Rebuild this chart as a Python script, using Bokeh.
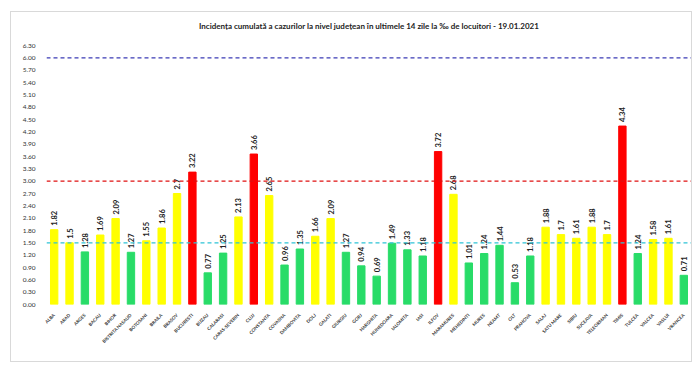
from bokeh.plotting import figure
from bokeh.models import ColumnDataSource, Span, FixedTicker, NumeralTickFormatter, Range1d, FactorRange
from bokeh.embed import file_html
from bokeh.resources import INLINE
from bokeh.core.properties import value
import math

counties = ["ALBA", "ARAD", "ARGES", "BACAU", "BIHOR", "BISTRITA NASAUD", "BOTOSANI", "BRAILA",
            "BRASOV", "BUCURESTI", "BUZAU", "CALARASI", "CARAS-SEVERIN", "CLUJ", "CONSTANTA",
            "COVASNA", "DAMBOVITA", "DOLJ", "GALATI", "GIURGIU", "GORJ", "HARGHITA", "HUNEDOARA",
            "IALOMITA", "IASI", "ILFOV", "MARAMURES", "MEHEDINTI", "MURES", "NEAMT", "OLT",
            "PRAHOVA", "SALAJ", "SATU MARE", "SIBIU", "SUCEAVA", "TELEORMAN", "TIMIS", "TULCEA",
            "VALCEA", "VASLUI", "VRANCEA"]
values = [1.82, 1.5, 1.28, 1.69, 2.09, 1.27, 1.55, 1.86, 2.7, 3.22, 0.77, 1.25, 2.13, 3.66,
          2.65, 0.96, 1.35, 1.66, 2.09, 1.27, 0.94, 0.69, 1.49, 1.33, 1.18, 3.72, 2.68, 1.01,
          1.24, 1.44, 0.53, 1.18, 1.88, 1.7, 1.61, 1.88, 1.7, 4.34, 1.24, 1.58, 1.61, 0.71]
y_ticks = [0.0, 0.3, 0.6, 0.9, 1.2, 1.5, 1.8, 2.1, 2.4, 2.7, 3.0, 3.3, 3.6, 3.9, 4.2, 4.5,
           4.8, 5.1, 5.4, 5.7, 6.0, 6.3]
threshold_values = [1.5, 3.0, 6.0]
threshold_colors = ["#2EC4D6", "#E01010", "#3B3BB5"]
title_text = "Incidența cumulată a cazurilor la nivel județean în ultimele 14 zile la ‰ de locuitori - 19.01.2021"

GREEN, YELLOW, RED = "#28DC68", "#FFFF00", "#FF0000"
colors = [GREEN if v < 1.5 else (YELLOW if v <= 3.0 else RED) for v in values]
labels = [str(v) for v in values]

src = ColumnDataSource(dict(x=counties, top=values, color=colors, label=labels))

p = figure(x_range=FactorRange(*counties, range_padding=0), y_range=Range1d(0, 6.3),
           width=680, height=349, output_backend="svg", toolbar_location=None,
           min_border_left=35, min_border_right=0, min_border_top=33, min_border_bottom=57,
           margin=(12, 0, 0, 11))
p.styles = {"outline": "1px solid #D9D9D9"}
p.outline_line_color = None
p.background_fill_color = "white"
p.border_fill_color = "white"

# second blank line lifts the title away from the plot frame
p.title.text = title_text + "\n "
p.title.align = "center"
p.title.text_font = "Lato"
p.title.text_font_size = "8px"
p.title.text_font_style = "bold"
p.title.text_color = "#222222"
p.title.standoff = 10

p.vbar(x="x", top="top", width=0.48, color="color", source=src)

for yv, c in zip(threshold_values, threshold_colors):
    p.add_layout(Span(location=yv, dimension="width", line_color=c, line_dash="4 3",
                      line_width=1.3))

p.text(x="x", y="top", text="label", source=src, angle=math.pi / 2, text_align="left",
       text_baseline="middle", x_offset=0, y_offset=-4, text_font=value("Lato"),
       text_font_size="7.5px", text_font_style="bold", text_color="#222222")

p.xgrid.grid_line_color = None
p.ygrid.grid_line_color = None

p.yaxis.ticker = FixedTicker(ticks=y_ticks)
p.yaxis.formatter = NumeralTickFormatter(format="0.00")
p.yaxis.axis_line_color = None
p.yaxis.major_tick_line_color = None
p.yaxis.minor_tick_line_color = None
p.yaxis.major_label_text_font = "Lato"
p.yaxis.major_label_text_font_size = "6.5px"
p.yaxis.major_label_text_color = "#333333"
p.yaxis.major_label_standoff = 5

p.xaxis.axis_line_color = None
p.xaxis.major_tick_line_color = None
p.xaxis.major_label_orientation = math.pi / 4
p.xaxis.major_label_text_font = "Lato"
p.xaxis.major_label_text_font_size = "4.5px"
p.xaxis.major_label_text_font_style = "bold"
p.xaxis.major_label_text_color = "#333333"
p.xaxis.major_label_standoff = 4

open("out.html", "w").write(file_html(p, INLINE))
